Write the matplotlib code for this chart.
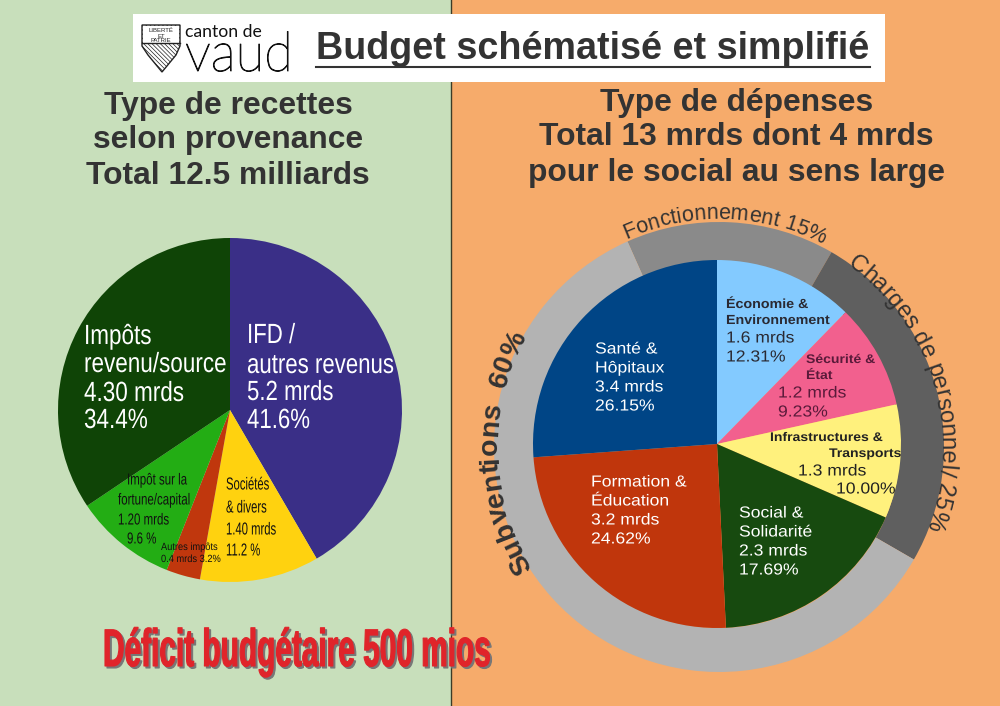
import numpy as np
import matplotlib
matplotlib.use("Agg")
import matplotlib.pyplot as plt
import matplotlib.patheffects as pe
from matplotlib.colors import to_rgba
from matplotlib.font_manager import FontProperties
from matplotlib.patches import Rectangle, Polygon
from matplotlib.textpath import text_to_path
from matplotlib.transforms import Affine2D

# recettes
rec_names = ["IFD", "Sociétés", "Autres impôts", "Fortune", "Revenu/source"]
rec_values = [5.2, 1.4, 0.4, 1.2, 4.3]
rec_colors = ["#3a2f87", "#ffd20f", "#c0370d", "#23ad14", "#0f4406"]

# depenses
dep_names = ["Économie", "Sécurité", "Infrastructures", "Social", "Formation", "Santé"]
dep_values = [1.6, 1.2, 1.3, 2.3, 3.2, 3.4]
dep_colors = ["#83caff", "#f2608e", "#fff17d", "#174a0f", "#c0360c", "#004586"]

# anneau
ring_names = ["Fonctionnement", "Charges de personnel", "Subventions"]
ring_values = [15, 25, 60]
ring_colors = ["#8a8a8a", "#5f5f5f", "#b3b3b3"]

SANS = "Liberation Sans"
H = 706
plt.rcParams["hatch.linewidth"] = 0.5


def Y(y):
    return H - y


# no condensed font installed, so squeeze the glyph outlines
class HScale(pe.AbstractPathEffect):
    def __init__(self, sx, offset=(0, 0), color=None, stroke=0):
        super().__init__(offset)
        self.sx = sx
        self.color = to_rgba(color) if color else None
        self.stroke = stroke

    def draw_path(self, renderer, gc, tpath, affine, rgbFace=None):
        tr = Affine2D().scale(self.sx, 1) + affine + Affine2D().translate(*self._offset)
        face = self.color if self.color else rgbFace
        gc0 = renderer.new_gc()
        gc0.copy_properties(gc)
        if self.stroke:
            gc0.set_linewidth(self.stroke)
            gc0.set_foreground(face)
        renderer.draw_path(gc0, tpath, tr, face)
        gc0.restore()


fig = plt.figure(figsize=(10, 7.06), dpi=100)
ax = fig.add_axes([0, 0, 1, 1])

ax.pie(ring_values, colors=ring_colors, startangle=114, counterclock=False,
       center=(719, Y(447)), radius=225, wedgeprops=dict(width=44, linewidth=0))
ax.pie(rec_values, colors=rec_colors, startangle=90, counterclock=False,
       center=(230, Y(410)), radius=172, wedgeprops=dict(linewidth=0))
ax.pie(dep_values, colors=dep_colors, startangle=90, counterclock=False,
       center=(717, Y(444)), radius=184, wedgeprops=dict(linewidth=0))

ax.set_xlim(0, 1000)
ax.set_ylim(0, H)
ax.set_aspect("auto")
ax.axis("off")

# fonds
ax.add_patch(Rectangle((0, 0), 451, H, fc="#c8dfbb", ec="none", zorder=-5))
ax.add_patch(Rectangle((451, 0), 549, H, fc="#f6ab6b", ec="none", zorder=-5))
ax.plot([451, 451], [0, H], color="#3c3c28", lw=1, zorder=-4)
ax.add_patch(Rectangle((133, Y(82)), 752, 68, fc="white", ec="none", zorder=3))


def lines(x, rows, size, color, sx=1.0, weight="normal"):
    for y, s in rows:
        ax.text(x, Y(y), s, fontsize=size, color=color, family=SANS, weight=weight,
                ha="left", va="center", zorder=6, path_effects=[HScale(sx)])


def arc_text(s, start, radius, size, color, weight="normal", cx=719, cy=447):
    prop = FontProperties(family=SANS, size=size, weight=weight)
    px = 100 / 72
    for i, ch in enumerate(s):
        w0 = text_to_path.get_text_width_height_descent(s[:i + 1], prop, False)[0] * px
        w1 = text_to_path.get_text_width_height_descent(ch, prop, False)[0] * px
        a = start - np.degrees((w0 - w1 / 2) / radius)
        ax.text(cx + radius * np.cos(np.radians(a)), Y(cy) + radius * np.sin(np.radians(a)), ch,
                fontproperties=prop, color=color, rotation=a - 90, rotation_mode="anchor",
                ha="center", va="baseline", zorder=7)


# logo
shield = Polygon([(142, Y(25)), (180, Y(25)), (180, Y(46)), (176, Y(55)), (162, Y(72)), (148, Y(55)), (142, Y(46))],
                 closed=True, fc="white", ec="#222222", lw=1, zorder=4, hatch="\\\\\\\\\\\\\\\\")
ax.add_patch(shield)
ax.add_patch(Rectangle((143, Y(43)), 36, 17.5, fc="white", ec="none", zorder=4.5))
ax.plot([142, 180], [Y(43), Y(43)], color="#222222", lw=1, zorder=5)
for yy, s in [(31, "LIBERTÉ"), (36.5, "ET"), (41, "PATRIE")]:
    ax.text(161, Y(yy), s, fontsize=4.3, ha="center", va="center", color="#222222", zorder=5, family=SANS)
ax.text(185, Y(37), "canton de", fontsize=12.7, color="#111111", family="Lato",
        ha="left", va="baseline", zorder=5)
ax.text(185, Y(71), "vaud", fontsize=39.5, color="#111111", family="Lato", weight="light",
        ha="left", va="baseline", zorder=5, path_effects=[HScale(0.96, stroke=0.7)])

# titres
ax.text(593, Y(49), "Budget schématisé et simplifié", fontsize=27.2, weight="bold", family=SANS,
        color="#333333", ha="center", va="center", zorder=5)
ax.plot([316, 870], [Y(67), Y(67)], color="#333333", lw=1.5, zorder=5)
for y, s in [(106, "Type de recettes"), (140, "selon provenance"), (176, "Total 12.5 milliards")]:
    ax.text(228, Y(y), s, fontsize=22.9, weight="bold", family=SANS, color="#333333",
            ha="center", va="center", zorder=5)
for y, s in [(103, "Type de dépenses"), (137, "Total 13 mrds dont 4 mrds"), (173, "pour le social au sens large")]:
    ax.text(736.5, Y(y), s, fontsize=22.9, weight="bold", family=SANS, color="#333333",
            ha="center", va="center", zorder=5)

# etiquettes gauche
lines(247, [(336, "IFD /"), (366, "autres revenus"), (393, "5.2 mrds"), (421, "41.6%")], 20, "white", 0.8)
lines(84, [(337, "Impôts"), (365, "revenu/source"), (394, "4.30 mrds"), (421, "34.4%")], 20, "white", 0.81)
lines(127, [(480, "Impôt sur la")], 11.5, "#111111", 0.72)
lines(118, [(500, "fortune/capital"), (520, "1.20 mrds")], 11.5, "#111111", 0.72)
lines(127, [(539, "9.6 %")], 11.5, "#111111", 0.72)
lines(226, [(485, "Sociétés"), (508, "& divers"), (530, "1.40 mrds"), (551, "11.2 %")], 12.5, "#111111", 0.65)
lines(161, [(547, "Autres impôts"), (559, "0.4 mrds 3.2%")], 7.5, "#111111", 0.89)

# etiquettes droite
DK = "#2a2a33"
lines(726, [(305, "Économie &"), (321, "Environnement")], 9.5, DK, 1.08, "bold")
lines(726, [(338, "1.6 mrds"), (357, "12.31%")], 11.5, DK, 1.1)
lines(806, [(360, "Sécurité &"), (376, "État")], 9, "#5a1a3a", 1.12, "bold")
lines(778, [(393, "1.2 mrds"), (412, "9.23%")], 11.5, "#5a1a3a", 1.1)
lines(770, [(438, "Infrastructures &")], 9, "#222222", 1.12, "bold")
lines(829, [(454, "Transports")], 9, "#222222", 1.12, "bold")
lines(798, [(471, "1.3 mrds")], 11.5, "#222222", 1.1)
lines(836, [(489, "10.00%")], 11.5, "#222222", 1.1)
lines(739, [(513, "Social &"), (532, "Solidarité"), (551, "2.3 mrds"), (570, "17.69%")], 11.5, "white", 1.1)
lines(591, [(482, "Formation &"), (501, "Éducation"), (520, "3.2 mrds"), (539, "24.62%")], 11.5, "white", 1.1)
lines(595, [(349, "Santé &"), (368, "Hôpitaux"), (387, "3.4 mrds"), (406, "26.15%")], 11.5, "white", 1.1)

# anneau, texte courbe
arc_text("Fonctionnement 15%", 114, 228, 15.5, "#333333")
arc_text("Charges de personnel/ 25%", 55, 222, 17.2, "#333333")
arc_text("Subventions  60%", 213, 222, 20.5, "#333333", weight="bold")

# deficit
ax.text(103, Y(652), "Déficit budgétaire 500 mios", fontsize=38, weight="bold", family=SANS,
        color="#e0242a", ha="left", va="center", zorder=8,
        path_effects=[HScale(0.565, offset=(2, -2), color="#777777", stroke=0.8), HScale(0.565, stroke=0.8)])

fig.savefig("out.png", dpi=100)
